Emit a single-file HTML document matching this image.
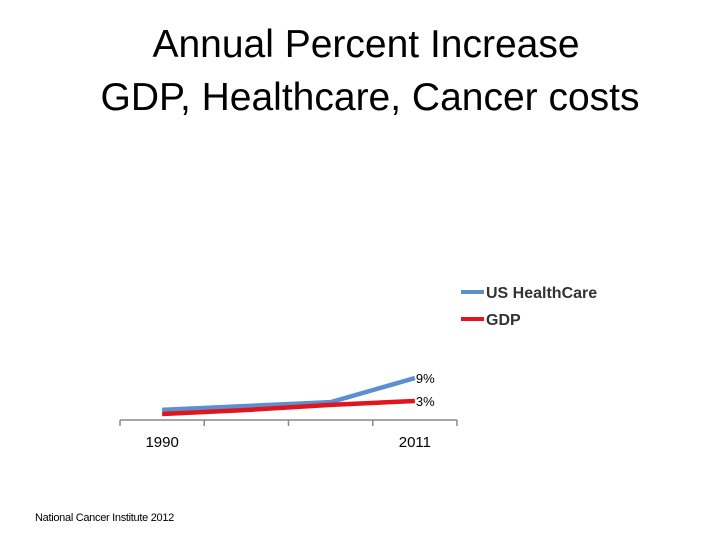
<!DOCTYPE html>
<html><head><meta charset="utf-8"><style>
body{margin:0;background:#fff;width:720px;height:540px;overflow:hidden;font-family:"Liberation Sans",sans-serif}
.t{position:absolute;left:0;text-align:center;font-size:39px;color:#000;white-space:nowrap}
</style></head><body>
<div class="t" style="top:23px;width:732px">Annual Percent Increase</div>
<div class="t" style="top:76px;width:740px">GDP, Healthcare, Cancer costs</div>
<div style="position:absolute;left:35px;top:512px;font-size:11px;letter-spacing:-0.3px">National Cancer Institute 2012</div>
<svg id="chart" width="720" height="540" style="position:absolute;left:0;top:0"></svg>
<script>
const categories=["1990","","","2011"];
const healthcare=[0.7,1.7,2.7,9];
const gdp=[-0.4,0.65,2.0,3];
const endLabels=["9%","3%"];
const NS="http://www.w3.org/2000/svg";
const svg=document.getElementById('chart');
const x0=120,x1=457,yBase=420;
const band=(x1-x0)/categories.length;
const xs=i=>x0+band*(i+0.5);
const ys=v=>412.5-3.83*v;
function mk(t,a){const e=document.createElementNS(NS,t);for(const k in a)e.setAttribute(k,a[k]);svg.appendChild(e);return e;}
let ax=mk('line',{x1:x0,x2:x1,y1:yBase,y2:yBase,stroke:'#888','stroke-width':1.5});


for(let i=0;i<=categories.length;i++){
 const tk=mk('line',{x1:x0+band*i,x2:x0+band*i,y1:yBase,y2:yBase+6,stroke:'#888','stroke-width':1.5});
 
 
}
categories.forEach((c,i)=>{if(!c)return;
 const t=mk('text',{x:xs(i),y:447,'text-anchor':'middle','font-size':15,fill:'#000'});t.textContent=c;
 
 
});
function series(vals,color,name,label){
 const p=mk('polyline',{points:vals.map((v,i)=>xs(i)+','+ys(v)).join(' '),fill:'none',stroke:color,'stroke-width':4.5,'stroke-linejoin':'round'});
 
 
 const n=vals.length-1;
 const t=mk('text',{x:xs(n)+1,y:ys(vals[n])+5,'font-size':13,fill:'#000'});t.textContent=label;
 
 
}
series(healthcare,'#5b8fd0','healthcare-line',endLabels[0]);
series(gdp,'#e3141b','gdp-line',endLabels[1]);
[['US HealthCare','#5b8fd0',292],['GDP','#e3141b',319]].forEach(([n,c,y])=>{
 const l=mk('line',{x1:461,x2:484,y1:y,y2:y,stroke:c,'stroke-width':4});
 
 
 const t=mk('text',{x:486,y:y+6,'font-size':16,'font-weight':'bold',fill:'#333'});t.textContent=n;
 
 
});
</script>
</body></html>
